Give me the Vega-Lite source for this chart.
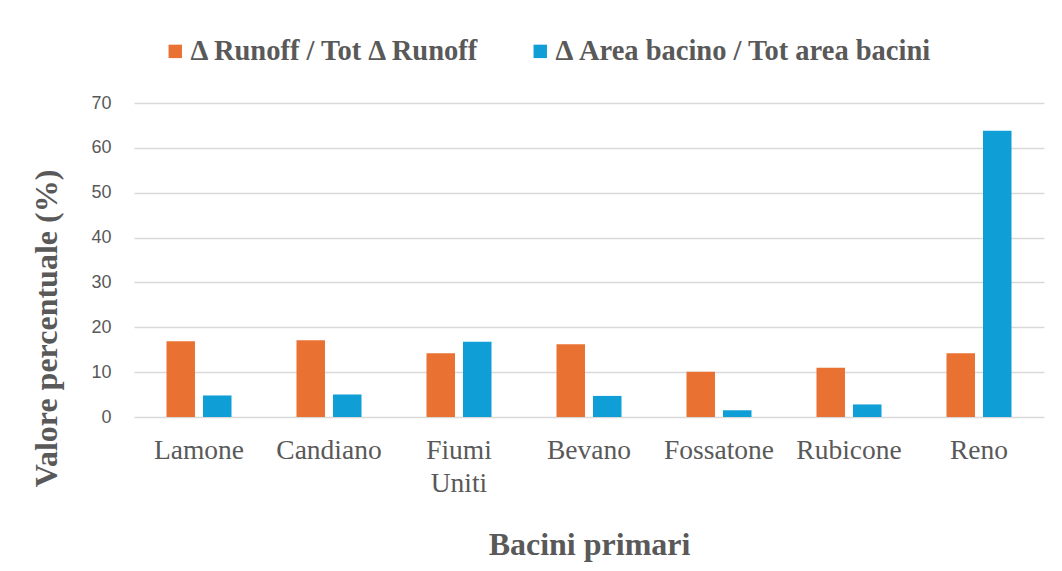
{
  "$schema": "https://vega.github.io/schema/vega-lite/v6.json",
  "autosize": "none",
  "width": 910,
  "height": 314,
  "padding": {"left": 134, "top": 103, "right": 18, "bottom": 154},
  "background": "white",
  "data": {
    "values": [
      {"bacino": "Lamone", "serie": "Δ Runoff / Tot Δ Runoff", "valore": 16.9},
      {"bacino": "Lamone", "serie": "Δ Area bacino / Tot area bacini", "valore": 4.8},
      {"bacino": "Candiano", "serie": "Δ Runoff / Tot Δ Runoff", "valore": 17.1},
      {"bacino": "Candiano", "serie": "Δ Area bacino / Tot area bacini", "valore": 5.0},
      {"bacino": "Fiumi Uniti", "serie": "Δ Runoff / Tot Δ Runoff", "valore": 14.2},
      {"bacino": "Fiumi Uniti", "serie": "Δ Area bacino / Tot area bacini", "valore": 16.8},
      {"bacino": "Bevano", "serie": "Δ Runoff / Tot Δ Runoff", "valore": 16.2},
      {"bacino": "Bevano", "serie": "Δ Area bacino / Tot area bacini", "valore": 4.7},
      {"bacino": "Fossatone", "serie": "Δ Runoff / Tot Δ Runoff", "valore": 10.1},
      {"bacino": "Fossatone", "serie": "Δ Area bacino / Tot area bacini", "valore": 1.5},
      {"bacino": "Rubicone", "serie": "Δ Runoff / Tot Δ Runoff", "valore": 11.0},
      {"bacino": "Rubicone", "serie": "Δ Area bacino / Tot area bacini", "valore": 2.8},
      {"bacino": "Reno", "serie": "Δ Runoff / Tot Δ Runoff", "valore": 14.2},
      {"bacino": "Reno", "serie": "Δ Area bacino / Tot area bacini", "valore": 63.8}
    ]
  },
  "mark": {"type": "bar"},
  "encoding": {
    "x": {
      "field": "bacino",
      "type": "nominal",
      "sort": ["Lamone", "Candiano", "Fiumi Uniti", "Bevano", "Fossatone", "Rubicone", "Reno"],
      "scale": {"paddingInner": 0.5, "paddingOuter": 0.25},
      "axis": {
        "title": "Bacini primari",
        "labelAngle": 0,
        "labelFont": "Liberation Serif",
        "labelFontSize": 27.5,
        "labelColor": "#595959",
        "labelPadding": 19,
        "labelLineHeight": 33,
        "labelExpr": "datum.label == 'Fiumi Uniti' ? ['Fiumi', 'Uniti'] : datum.label",
        "ticks": false,
        "domain": false,
        "titleFont": "Liberation Serif",
        "titleFontSize": 32,
        "titleFontWeight": "bold",
        "titleColor": "#595959",
        "titlePadding": 33
      }
    },
    "xOffset": {
      "field": "serie",
      "type": "nominal",
      "sort": ["Δ Runoff / Tot Δ Runoff", "Δ Area bacino / Tot area bacini"],
      "scale": {"paddingInner": 0.22, "paddingOuter": 0}
    },
    "y": {
      "field": "valore",
      "type": "quantitative",
      "scale": {"domain": [0, 70], "nice": false},
      "axis": {
        "title": "Valore percentuale (%)",
        "values": [0, 10, 20, 30, 40, 50, 60, 70],
        "labelFont": "Liberation Sans",
        "labelFontSize": 18,
        "labelColor": "#595959",
        "labelPadding": 23,
        "ticks": false,
        "domain": false,
        "gridColor": "#D9D9D9",
        "gridWidth": 1.4,
        "titleFont": "Liberation Serif",
        "titleFontSize": 32,
        "titleFontWeight": "bold",
        "titleColor": "#595959",
        "titleY": 225,
        "titleX": -71,
        "titleAngle": 270,
        "titleBaseline": "bottom",
        "titleAlign": "center"
      }
    },
    "color": {
      "field": "serie",
      "type": "nominal",
      "scale": {
        "domain": ["Δ Runoff / Tot Δ Runoff", "Δ Area bacino / Tot area bacini"],
        "range": ["#E97132", "#0F9ED5"]
      },
      "legend": {
        "title": null,
        "orient": "none",
        "legendX": 27,
        "legendY": -66,
        "direction": "horizontal",
        "symbolType": "square",
        "symbolSize": 180,
        "symbolStrokeWidth": 0,
        "symbolOpacity": 1,
        "labelFont": "Liberation Serif",
        "labelFontSize": 28.5,
        "labelFontWeight": "bold",
        "labelColor": "#595959",
        "labelOffset": 1,
        "columnPadding": 45,
        "padding": 0,
        "labelLimit": 500
      }
    }
  },
  "config": {
    "view": {"stroke": null}
  }
}
